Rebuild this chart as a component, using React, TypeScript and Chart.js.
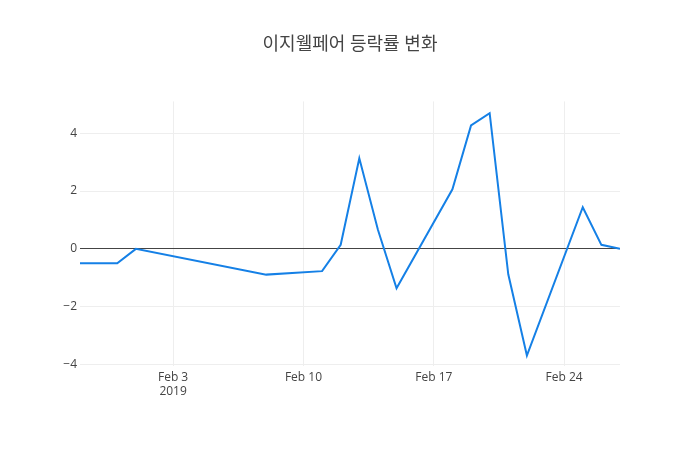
import { useEffect, useRef } from "react";
import { Chart, registerables } from "chart.js";

Chart.register(...registerables);

// 이지웰페어 daily change (%), trading days shown in the reference
const dates = [
  "2019-01-29", "2019-01-31", "2019-02-01", "2019-02-08", "2019-02-11",
  "2019-02-12", "2019-02-13", "2019-02-14", "2019-02-15", "2019-02-18",
  "2019-02-19", "2019-02-20", "2019-02-21", "2019-02-22", "2019-02-25",
  "2019-02-26", "2019-02-27",
];
const changes = [
  -0.5, -0.5, 0.0, -0.89, -0.77,
  0.14, 3.13, 0.66, -1.36, 2.06,
  4.27, 4.69, -0.88, -3.69, 1.44,
  0.14, 0.0,
];
const tickDates = ["2019-02-03", "2019-02-10", "2019-02-17", "2019-02-24"];
const tickLabels: (string | string[])[] = [["Feb 3", "2019"], "Feb 10", "Feb 17", "Feb 24"];
const yTicks = [-4, -2, 0, 2, 4];

const BASE = Date.UTC(2019, 0, 29);
const toDay = (s: string) => {
  const [y, m, d] = s.split("-").map(Number);
  return (Date.UTC(y, m - 1, d) - BASE) / 86400000;
};

const FONT = "'Open Sans', 'Noto Sans CJK KR', sans-serif";

export default function App() {
  const ref = useRef<HTMLCanvasElement>(null);

  useEffect(() => {
    document.body.style.margin = "0";
    if (!ref.current) return;
    const tickPos = tickDates.map(toDay);
    const chart = new Chart(ref.current, {
      type: "line",
      data: {
        datasets: [{
          data: dates.map((d, i) => ({ x: toDay(d), y: changes[i] })),
          borderColor: "#1580e6",
          borderWidth: 2,
          pointRadius: 0,
          tension: 0,
          fill: false,
        }],
      },
      options: {
        animation: false,
        responsive: false,
        maintainAspectRatio: false,
        layout: { padding: 0 },
        plugins: {
          legend: { display: false },
          tooltip: { enabled: false },
          title: {
            display: true,
            text: "이지웰페어 등락률 변화",
            color: "#444",
            font: { family: FONT, size: 18, weight: "normal" },
            padding: { top: 34.5, bottom: 45.3 },
          },
        },
        scales: {
          x: {
            type: "linear",
            min: toDay(dates[0]),
            max: toDay(dates[dates.length - 1]),
            afterBuildTicks: (axis) => {
              axis.ticks = tickPos.map((v) => ({ value: v }));
            },
            afterFit: (axis) => { axis.height = 84; },
            ticks: {
              color: "#444",
              font: { family: FONT, size: 12 },
              padding: 4,
              maxRotation: 0,
              autoSkip: false,
              callback: (v) => {
                const i = tickPos.indexOf(Number(v));
                return i >= 0 ? tickLabels[i] : "";
              },
            },
            grid: { color: "#eee", drawTicks: false },
            border: { display: false },
          },
          y: {
            min: -4.05,
            max: 5.1,
            afterBuildTicks: (axis) => {
              axis.ticks = yTicks.map((v) => ({ value: v }));
            },
            afterFit: (axis) => { axis.width = 80; },
            ticks: {
              color: "#444",
              font: { family: FONT, size: 12 },
              padding: 3,
              callback: (v) => (Number(v) < 0 ? "\u2212" + Math.abs(Number(v)) : String(v)),
            },
            grid: {
              color: (ctx) => (ctx.tick && ctx.tick.value === 0 ? "#444" : "#eee"),
              drawTicks: false,
            },
            border: { display: false },
          },
          // empty right margin so the title centres on the whole canvas
          yRight: {
            position: "right",
            afterFit: (axis) => { axis.width = 80; },
            ticks: { display: false },
            grid: { display: false },
            border: { display: false },
          },
        },
      },
    });
    return () => chart.destroy();
  }, []);

  return (
    <div style={{ width: 700, height: 450, background: "#fff" }}>
      <canvas ref={ref} width={700} height={450} role="img" aria-label="이지웰페어 등락률 변화 line chart" />
    </div>
  );
}
